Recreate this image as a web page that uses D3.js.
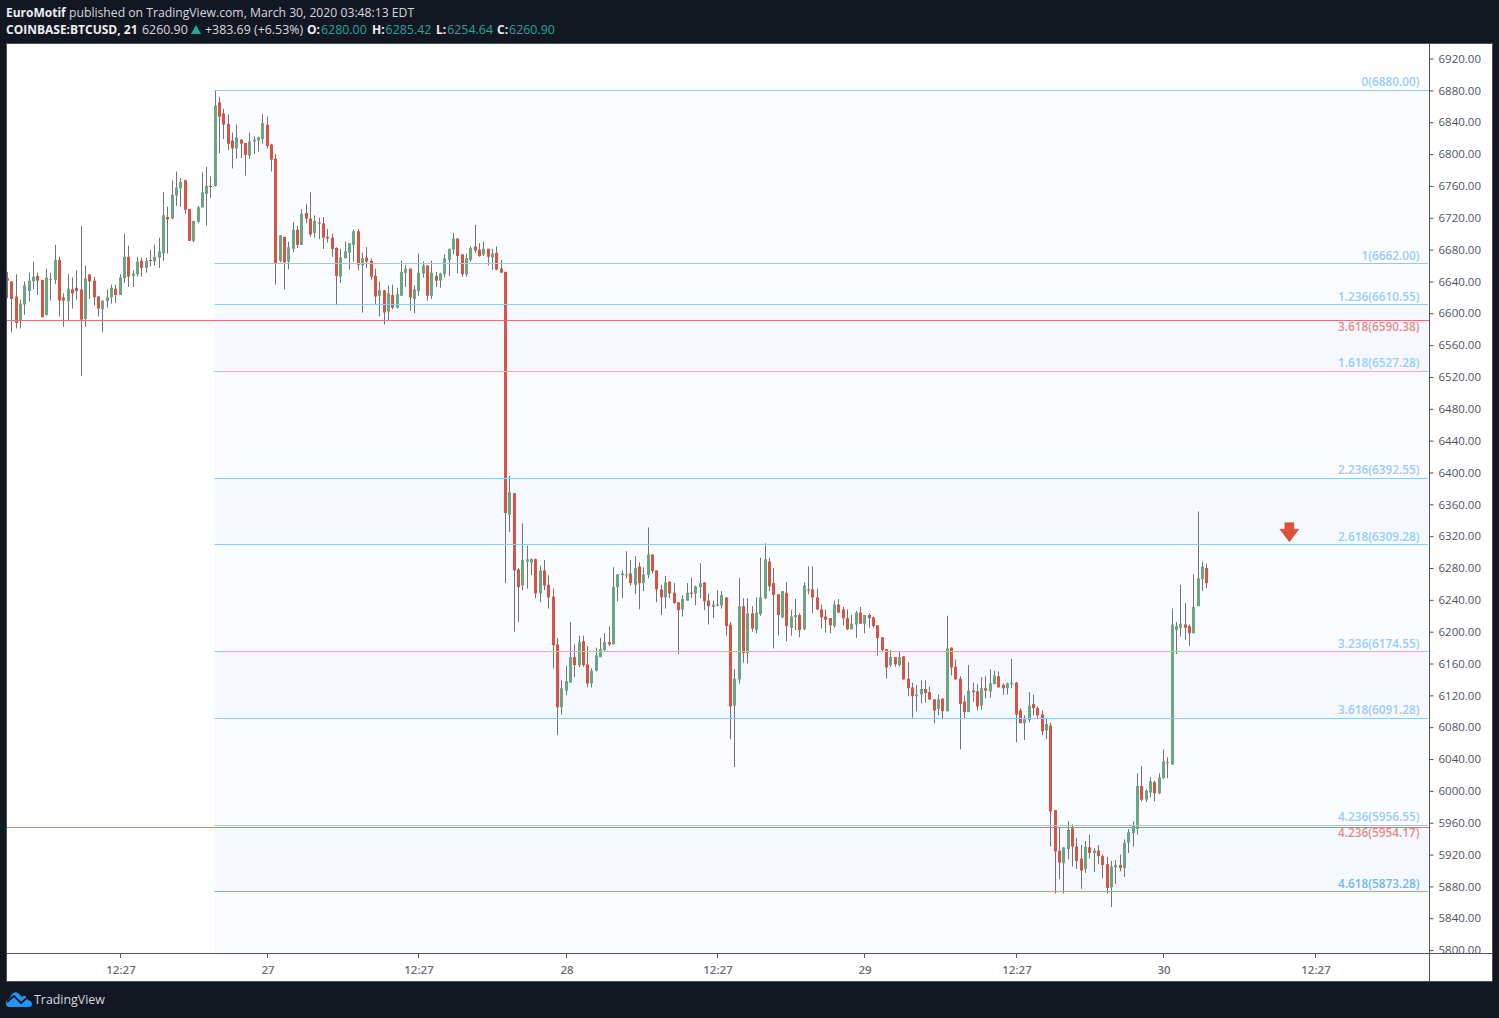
<!DOCTYPE html>
<html><head><meta charset="utf-8">
<script src="https://cdn.jsdelivr.net/npm/d3@7"></script>
<style>html,body{margin:0;padding:0;background:#131722;overflow:hidden}svg{display:block}</style>
</head><body><svg id="c" width="1499" height="1018"></svg>
<script>
const opens=[6644,6640,6621,6591,6611,6628,6640,6647,6642,6598,6642,6642,6667,6620,6615,6630,6632,6630,6593,6649,6641,6621,6605,6615,6620,6631,6623,6644,6671,6647,6649,6666,6657,6667,6665,6670,6675,6721,6719,6748,6757,6767,6731,6691,6715,6733,6750,6760,6760,6865,6851,6838,6817,6807,6818,6814,6798,6816,6817,
6819,6837,6812,6794,6666,6696,6665,6681,6705,6686,6726,6719,6701,6714,6713,6696,6695,6682,6646,6669,6676,6686,6703,6660,6670,6666,6647,6622,6629,6602,6623,6607,6622,6651,6656,6618,6628,6650,6660,6622,6647,6641,6649,6667,6680,6694,6674,6649,6667,6684,6680,6674,6681,6670,6676,6656,6652,
6347,6374,6278,6258,6288,6287,6291,6248,6277,6259,6244,6184,6105,6126,6136,6168,6158,6188,6159,6135,6151,6168,6177,6187,6184,6256,6271,6271,6273,6259,6282,6261,6271,6297,6277,6253,6243,6263,6249,6237,6228,6239,6249,6248,6256,6262,6239,6231,6234,6233,6243,6209,6107,6140,6232,6173,6223,
6202,6222,6242,6288,6261,6247,6218,6249,6205,6218,6221,6203,6253,6253,6243,6228,6219,6217,6207,6234,6228,6217,6203,6209,6224,6210,6221,6218,6208,6193,6178,6158,6168,6158,6169,6141,6130,6119,6121,6128,6124,6115,6103,6116,6100,6180,6156,6141,6112,6099,6126,6125,6107,6129,6125,6134,6144,6133,
6129,6134,6136,6101,6085,6089,6109,6104,6096,6076,6082,5976,5925,5909,5927,5953,5930,5915,5902,5929,5922,5925,5918,5908,5879,5904,5907,5903,5935,5947,5952,6006,5989,5998,6011,5997,6016,6036,6033,6202,6205,6209,6207,6198,6232,6266,6280];
const highs=[6652,6640,6649,6617,6640,6651,6665,6651,6642,6656,6651,6686,6671,6625,6649,6645,6654,6710,6660,6649,6646,6622,6616,6630,6636,6636,6649,6700,6685,6654,6671,6670,6670,6680,6686,6695,6752,6734,6767,6778,6770,6768,6731,6716,6735,6777,6784,6772,6880,6872,6857,6850,6827,6837,6819,6814,6827,6822,6822,
6850,6847,6813,6800,6698,6696,6690,6715,6710,6731,6737,6752,6723,6720,6721,6706,6700,6683,6681,6690,6688,6705,6706,6676,6683,6669,6656,6640,6629,6635,6636,6632,6666,6661,6656,6635,6675,6665,6660,6666,6652,6651,6674,6681,6701,6694,6674,6675,6684,6711,6688,6690,6681,6681,6684,6667,6652,
6396,6374,6280,6336,6308,6292,6292,6283,6290,6271,6254,6192,6139,6157,6212,6184,6195,6195,6182,6154,6180,6192,6198,6207,6281,6272,6277,6301,6290,6295,6287,6281,6331,6297,6277,6259,6270,6263,6261,6237,6246,6261,6268,6258,6286,6262,6248,6239,6252,6251,6243,6212,6153,6267,6242,6242,6232,
6243,6293,6311,6293,6280,6247,6251,6262,6227,6241,6223,6262,6282,6282,6254,6234,6228,6217,6239,6241,6231,6228,6221,6226,6231,6221,6223,6219,6208,6193,6178,6177,6168,6175,6169,6162,6136,6133,6139,6139,6131,6115,6121,6116,6220,6180,6165,6144,6120,6158,6136,6134,6143,6144,6153,6151,6150,6135,
6136,6166,6137,6104,6095,6124,6121,6106,6101,6091,6086,5976,5954,5929,5962,5958,5941,5932,5937,5945,5928,5932,5920,5917,5912,5913,5920,5939,5952,5962,6022,6031,6002,6017,6013,6022,6052,6042,6229,6212,6259,6236,6209,6272,6351,6288,6285.42];
const lows=[6619,6576,6581,6581,6598,6615,6630,6623,6595,6597,6616,6637,6596,6583,6591,6606,6617,6521,6583,6618,6610,6596,6576,6607,6612,6613,6623,6638,6633,6633,6646,6646,6651,6659,6660,6657,6666,6675,6718,6735,6734,6725,6691,6689,6713,6733,6710,6745,6759,6801,6819,6805,6782,6794,6795,6773,6794,6800,6803,
6813,6807,6778,6636,6664,6630,6655,6677,6682,6686,6713,6696,6695,6693,6681,6689,6671,6610,6638,6669,6655,6665,6654,6601,6657,6642,6611,6596,6586,6591,6605,6606,6622,6633,6603,6600,6622,6645,6616,6618,6633,6632,6645,6647,6674,6650,6646,6646,6665,6676,6671,6672,6660,6655,6654,6651,6261,
6325,6200,6212,6252,6254,6271,6242,6237,6252,6229,6154,6070,6096,6120,6136,6143,6155,6156,6130,6130,6150,6168,6175,6182,6184,6238,6242,6267,6258,6247,6228,6251,6267,6273,6237,6221,6229,6242,6235,6172,6219,6239,6242,6233,6242,6227,6209,6217,6232,6229,6195,6065,6030,6135,6161,6160,6200,
6198,6220,6241,6251,6179,6195,6217,6188,6195,6202,6193,6202,6247,6223,6227,6204,6199,6198,6205,6223,6208,6202,6203,6192,6210,6198,6205,6205,6170,6175,6141,6156,6156,6156,6140,6119,6092,6100,6110,6111,6114,6085,6095,6090,6100,6145,6140,6052,6090,6099,6112,6101,6102,6116,6117,6134,6130,6121,
6121,6129,6061,6085,6064,6086,6095,6090,6070,6065,5930,5871,5889,5871,5914,5905,5902,5877,5897,5915,5898,5908,5890,5871,5854,5883,5899,5892,5922,5930,5945,5987,5986,5992,5987,5996,6015,6016,6033,6172,6194,6190,6182,6198,6232,6251,6254.64];
const closes=[6641,6618,6588,6612,6635,6641,6646,6641,6595,6645,6643,6667,6616,6616,6631,6625,6628,6592,6644,6640,6620,6606,6616,6620,6632,6623,6645,6671,6646,6650,6665,6657,6666,6666,6671,6678,6723,6718,6749,6758,6765,6730,6691,6716,6733,6752,6760,6759,6861,6847,6837,6813,6807,6821,6813,6799,6816,6818,6821,
6839,6810,6793,6662,6698,6664,6683,6705,6686,6725,6719,6699,6716,6713,6695,6694,6681,6647,6670,6678,6688,6703,6661,6669,6665,6646,6621,6629,6601,6625,6607,6624,6652,6656,6620,6630,6651,6660,6622,6651,6641,6650,6669,6681,6694,6672,6649,6669,6682,6679,6672,6681,6671,6675,6655,6651,6349,
6375,6277,6256,6290,6291,6291,6248,6277,6258,6243,6183,6105,6129,6138,6168,6158,6187,6158,6135,6151,6170,6178,6187,6184,6256,6272,6273,6272,6261,6280,6261,6272,6297,6276,6253,6243,6262,6248,6236,6227,6241,6249,6248,6257,6261,6238,6232,6234,6233,6246,6207,6106,6141,6232,6173,6223,6204,
6224,6243,6291,6257,6246,6221,6251,6207,6219,6221,6202,6258,6252,6243,6228,6218,6215,6208,6234,6224,6217,6203,6210,6224,6210,6221,6217,6207,6192,6177,6155,6168,6159,6168,6140,6129,6119,6121,6128,6123,6115,6101,6115,6100,6179,6155,6140,6109,6099,6126,6124,6106,6129,6126,6135,6145,6130,6129,
6135,6136,6096,6085,6090,6107,6104,6095,6075,6084,5974,5924,5910,5929,5951,5930,5912,5900,5930,5922,5925,5918,5907,5878,5905,5907,5903,5935,5948,5956,6006,5989,6000,6012,5997,6017,6037,6035,6209,6207,6210,6205,6198,6231,6267,6282,6260.9];

const blueLevels=["0","1","1.236","1.618","2.236","2.618","3.236","3.618","4.236","4.618"];
const bluePrices=[6880,6662,6610.55,6527.28,6392.55,6309.28,6174.55,6091.28,5956.55,5873.28];
const redLevels=["3.618","4.236"];
const redPrices=[6590.38,5954.17];
const priceTicks=[6920,6880,6840,6800,6760,6720,6680,6640,6600,6560,6520,6480,6440,6400,6360,6320,6280,6240,6200,6160,6120,6080,6040,6000,5960,5920,5880,5840,5800];
const timeTickBars=[26,60,95,129,164,198,233,267,302];
const timeTickLabels=["12:27","27","12:27","28","12:27","29","12:27","30","12:27"];
const arrowBar=296, arrowPrice=6313;

const UI='"Open Sans",Roboto,sans-serif';
const svg=d3.select("#c");
const x=d3.scaleLinear().domain([0,277]).range([7.5,1206.8]);
const y=d3.scaleLinear().domain([6880,5800]).range([90.4,950.08]);
const col=i=>Math.floor(x(i));
const crisp=p=>Math.floor(y(p))+.5;

svg.append("rect").attr("width",1499).attr("height",1018).attr("fill","#131722");
svg.append("rect").attr("x",6.5).attr("y",43.5).attr("width",1486).attr("height",938).attr("fill","#fff").attr("stroke","#4c4f58");
svg.append("clipPath").attr("id","plot").append("rect").attr("x",7).attr("y",44).attr("width",1422).attr("height",910);
const plot=svg.append("g").attr("clip-path","url(#plot)");

// fib bands
const fibX0=214.5,fibX1=1428;
const bandEdges=bluePrices.concat([y.invert(954)]);
bandEdges.slice(0,-1).forEach((p,k)=>{
  plot.append("rect").attr("x",fibX0).attr("width",fibX1-fibX0)
   .attr("y",crisp(p)).attr("height",(k<bandEdges.length-2?crisp(bandEdges[k+1]):954)-crisp(p))
   .attr("fill",[2,4,6,8].includes(k)?"#f5f9ff":"#fbfcff");
});
// candles
const idx=d3.range(opens.length);
plot.append("g").selectAll("rect").data(idx).join("rect")
  .attr("x",col).attr("width",1)
  .attr("y",i=>y(highs[i])).attr("height",i=>y(lows[i])-y(highs[i])).attr("fill","#737375");
plot.append("g").selectAll("rect").data(idx).join("rect")
  .attr("x",i=>col(i)-1).attr("width",3)
  .attr("y",i=>y(Math.max(opens[i],closes[i])))
  .attr("height",i=>Math.max(1,Math.abs(y(opens[i])-y(closes[i]))))
  .attr("fill",i=>closes[i]>=opens[i]?"#6ba583":"#d75442");
// fib lines
plot.append("g").selectAll("line").data(bluePrices).join("line")
  .attr("x1",fibX0).attr("x2",fibX1).attr("y1",crisp).attr("y2",crisp)
  .attr("stroke",(d,k)=>k===9?"#6fb5f0":"#90caf9").attr("stroke-width",1);
plot.append("g").selectAll("line").data(redPrices).join("line")
  .attr("x1",7).attr("x2",1429).attr("y1",crisp).attr("y2",crisp)
  .attr("stroke","#e57373").attr("stroke-width",1);
// fib labels
const lab=plot.append("g").attr("font-family",UI).attr("font-size",11.8).attr("font-weight",600).attr("text-anchor","end");
bluePrices.forEach((p,k)=>lab.append("text").attr("x",1419.5).attr("y",y(p)-4).attr("fill",k===9?"#72b6f2":"#97cdfa").text(`${blueLevels[k]}(${p.toFixed(2)})`));
redPrices.forEach((p,k)=>lab.append("text").attr("x",1419.5).attr("y",y(p)+10).attr("fill","#e98a8a").text(`${redLevels[k]}(${p.toFixed(2)})`));
// arrow marker
const ax=x(arrowBar)+.3, ty=y(arrowPrice);
plot.append("path").attr("d",`M${ax-4.5},${ty-19}H${ax+4.5}V${ty-12.5}H${ax+9.5}L${ax},${ty}L${ax-9.5},${ty-12.5}H${ax-4.5}Z`)
 .attr("fill","#dc5138").attr("stroke","#c0412c").attr("stroke-width",.5);
// axes
const axisColor="#50535e",tickText="#50535e";
const yAxis=d3.axisRight(y).tickValues(priceTicks).tickFormat(d3.format(".2f")).tickSize(4).tickPadding(5);
const gy=svg.append("g").attr("transform","translate(1429.5,0)").call(yAxis);
gy.select(".domain").remove();
gy.selectAll("line").attr("stroke",axisColor);
gy.selectAll("text").attr("font-family",UI).attr("font-size",11.5).attr("fill",tickText);
svg.append("line").attr("x1",7).attr("x2",1429).attr("y1",953.5).attr("y2",953.5).attr("stroke",axisColor);
svg.append("rect").attr("x",1430).attr("y",954).attr("width",62).attr("height",27).attr("fill","#fff");
svg.append("line").attr("x1",1429.5).attr("x2",1429.5).attr("y1",44).attr("y2",981).attr("stroke",axisColor);
svg.append("line").attr("x1",1429).attr("x2",1492).attr("y1",953.5).attr("y2",953.5).attr("stroke",axisColor);
const gt=svg.append("g");
timeTickBars.forEach((b,k)=>{
  const tx=col(b)+.5;
  gt.append("line").attr("x1",tx).attr("x2",tx).attr("y1",954).attr("y2",958).attr("stroke",axisColor);
  gt.append("text").attr("x",tx+.5).attr("y",973.5).attr("text-anchor","middle").attr("font-family",UI).attr("font-size",11.5).attr("font-weight",600).attr("fill","#6b6e78").text(timeTickLabels[k]);
});
// header
const head=svg.append("g").attr("font-family",UI).attr("font-size",12.2).attr("fill","#d6d8de");
const t1=head.append("text").attr("x",6).attr("y",17);
t1.append("tspan").attr("font-weight",700).attr("font-size",12).attr("fill","#eceef2").text("EuroMotif");
t1.append("tspan").attr("x",69).text("published on TradingView.com, March 30, 2020 03:48:13 EDT");
const t2=head.append("text").attr("x",6).attr("y",34);
t2.append("tspan").attr("font-weight",700).attr("font-size",12).attr("fill","#eceef2").text("COINBASE:BTCUSD, 21");
t2.append("tspan").attr("x",142).attr("font-size",12.4).text("6260.90");
svg.append("path").attr("d","M191,34L196,25L201,34Z").attr("fill","#26a69a");
t2.append("tspan").attr("x",205).attr("font-size",12.4).text("+383.69 (+6.53%)");
const parts=[["O:","6280.00",307],["H:","6285.42",372],["L:","6254.64",436],["C:","6260.90",497]];
parts.forEach(([a,b,px])=>{t2.append("tspan").attr("x",px).attr("font-weight",700).attr("font-size",12).attr("fill","#eceef2").text(a);t2.append("tspan").attr("dx",1).attr("font-size",12.4).attr("fill","#26a69a").text(b);});
// logo
svg.append("path").attr("d","M6,1003Q6,1000 9,999L12,994Q15,991 18,993L22,997Q25,994 27,998L28,1000Q32,1001 32,1004Q32,1007 29,1007H9Q6,1007 6,1003Z").attr("fill","#2196f3");
svg.append("path").attr("d","M7,1002L14,996L21,1003L28,997").attr("fill","none").attr("stroke","#131722").attr("stroke-width",1.7);
svg.append("text").attr("x",34).attr("y",1004).attr("font-family",UI).attr("font-size",12.4).attr("fill","#d6d8de").text("TradingView");
</script></body></html>
